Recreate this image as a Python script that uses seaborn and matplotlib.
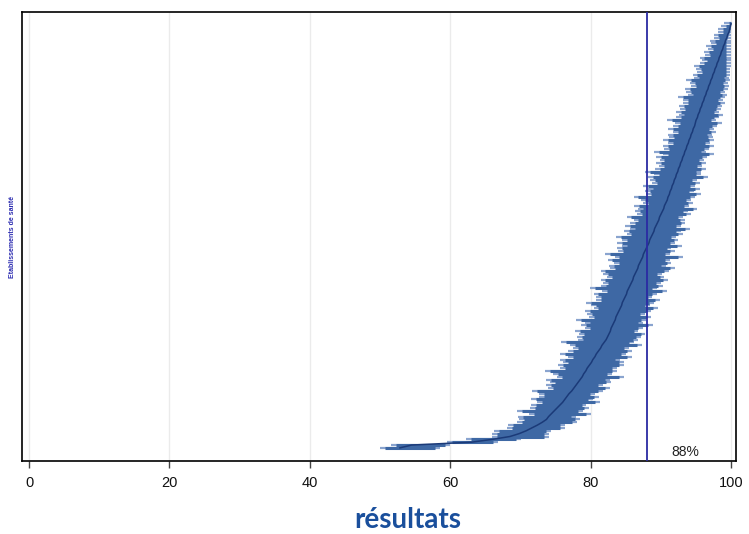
"""
Caterpillar plot : résultats par établissement de santé avec intervalles de confiance.
"""
import matplotlib
matplotlib.use("Agg")
import matplotlib.pyplot as plt
import numpy as np
import pandas as pd
import seaborn as sns

# résultats (valeur centrale) par établissement, triés du plus faible au plus élevé
centre = [
    52.8, 54.5, 63.0, 66.0, 68.5, 69.8, 70.8, 71.6, 72.4, 73.1,
    73.7, 74.0, 74.4, 74.8, 75.2, 75.6, 76.0, 76.3, 76.6, 76.9,
    77.3, 77.6, 77.9, 78.2, 78.5, 78.8, 79.0, 79.3, 79.5, 79.8,
    80.1, 80.3, 80.6, 80.8, 81.1, 81.4, 81.6, 81.9, 82.2, 82.4,
    82.6, 82.8, 82.9, 83.1, 83.3, 83.5, 83.6, 83.8, 84.0, 84.2,
    84.4, 84.5, 84.7, 84.9, 85.1, 85.2, 85.4, 85.6, 85.8, 86.0,
    86.1, 86.3, 86.5, 86.7, 86.8, 87.0, 87.2, 87.4, 87.5, 87.7,
    87.9, 88.1, 88.3, 88.4, 88.6, 88.8, 89.0, 89.1, 89.3, 89.5,
    89.7, 89.8, 90.0, 90.2, 90.4, 90.5, 90.7, 90.9, 91.0, 91.2,
    91.3, 91.5, 91.6, 91.8, 91.9, 92.1, 92.2, 92.4, 92.5, 92.7,
    92.8, 93.0, 93.1, 93.3, 93.4, 93.6, 93.7, 93.9, 94.0, 94.2,
    94.3, 94.5, 94.6, 94.8, 94.9, 95.0, 95.2, 95.3, 95.5, 95.6,
    95.8, 95.9, 96.1, 96.2, 96.4, 96.5, 96.7, 96.8, 97.0, 97.1,
    97.3, 97.4, 97.6, 97.7, 97.9, 98.0, 98.2, 98.3, 98.5, 98.6,
    98.8, 98.9, 99.1, 99.2, 99.4, 99.5, 99.7, 99.8, 99.9, 100.0,
]

# écart vers la borne inférieure de l'IC
err_bas = [
    2.8, 3.0, 3.5, 3.8, 2.6, 3.9, 4.6, 3.5, 4.2, 3.6,
    3.9, 4.4, 3.2, 5.3, 3.8, 4.1, 3.6, 4.8, 3.9, 4.3,
    5.6, 3.7, 4.2, 4.0, 4.9, 3.6, 4.4, 5.8, 3.9, 4.5,
    4.1, 4.7, 3.8, 5.2, 4.3, 3.9, 4.6, 6.1, 4.0, 4.4,
    4.2, 5.0, 3.7, 4.5, 4.1, 5.6, 3.9, 4.3, 4.8, 3.8,
    4.4, 5.2, 3.9, 4.2, 4.7, 3.6, 5.5, 4.1, 4.0, 4.6,
    3.8, 4.5, 5.1, 3.9, 4.2, 3.7, 4.8, 4.0, 5.4, 3.8,
    4.1, 3.6, 4.6, 3.9, 5.0, 3.7, 4.2, 3.5, 4.4, 3.9,
    3.6, 4.7, 3.4, 3.9, 3.7, 4.3, 3.2, 3.8, 4.9, 3.3,
    3.6, 3.3, 4.2, 3.1, 3.5, 3.9, 3.2, 4.6, 3.4, 3.0,
    3.5, 3.2, 3.8, 3.0, 4.4, 3.1, 3.4, 2.9, 3.7, 3.0,
    3.3, 2.8, 3.6, 3.1, 2.9, 4.1, 3.0, 2.7, 3.4, 2.9,
    3.2, 2.7, 3.0, 3.8, 2.6, 2.9, 3.3, 2.5, 2.8, 3.5,
    2.6, 2.9, 2.4, 2.7, 3.2, 2.5, 2.3, 2.8, 2.2, 2.4,
    2.1, 2.5, 1.9, 2.2, 1.8, 2.0, 1.6, 1.7, 1.3, 1.0,
]

# écart vers la borne supérieure de l'IC
err_haut = [
    5.7, 5.5, 3.8, 4.0, 5.5, 4.2, 3.6, 4.7, 3.9, 5.0,
    4.8, 3.9, 5.6, 4.1, 4.5, 3.8, 5.3, 4.0, 4.6, 3.7,
    4.4, 5.1, 3.9, 4.7, 4.2, 5.9, 4.0, 4.5, 4.3, 5.0,
    4.6, 3.9, 5.3, 4.2, 4.8, 4.1, 5.7, 4.3, 4.5, 4.7,
    5.2, 4.0, 4.6, 5.8, 4.1, 4.4, 5.0, 3.9, 4.6, 5.4,
    4.1, 4.5, 5.2, 3.9, 4.3, 5.6, 4.0, 4.7, 4.2, 5.0,
    4.4, 3.8, 4.6, 5.3, 3.9, 4.5, 4.1, 5.8, 3.8, 4.3,
    3.6, 4.9, 3.7, 4.1, 3.5, 4.4, 3.8, 5.0, 3.6, 4.0,
    3.7, 3.4, 4.3, 3.6, 4.8, 3.5, 3.9, 3.4, 3.8, 4.5,
    3.4, 4.1, 3.3, 3.7, 3.2, 4.6, 3.5, 3.3, 3.9, 3.2,
    3.6, 3.1, 3.4, 4.2, 3.0, 3.3, 3.8, 3.1, 3.5, 3.2,
    3.0, 3.4, 2.9, 3.2, 3.8, 2.9, 3.1, 3.5, 2.8, 3.0,
    2.9, 3.2, 2.7, 2.9, 3.0, 2.6, 2.8, 2.9, 2.5, 2.7,
    2.4, 2.5, 2.3, 2.2, 2.1, 2.0, 1.8, 1.7, 1.5, 1.4,
    1.2, 1.1, 0.9, 0.8, 0.6, 0.5, 0.3, 0.2, 0.1, 0.0,
]

seuil = 88
seuil_label = "88%"
x_ticks = [0, 20, 40, 60, 80, 100]

df = pd.DataFrame({"centre": centre, "bas": err_bas, "haut": err_haut})
df["rang"] = np.arange(len(df))
df["ic_bas"] = df["centre"] - df["bas"]
df["ic_haut"] = df["centre"] + df["haut"]

sns.set_style("whitegrid", {"grid.color": "#ebebeb", "axes.edgecolor": "black"})
plt.rcParams["font.family"] = ["Liberation Sans", "DejaVu Sans"]

fig, ax = plt.subplots(figsize=(7.49, 5.34), dpi=100)
fig.subplots_adjust(left=0.0294, right=0.9827, top=0.9775, bottom=0.1367)

# intervalles de confiance : bord clair puis coeur plus soutenu
ax.hlines(df["rang"], df["ic_bas"], df["ic_haut"], color="#8aa4cf", linewidth=1.6, zorder=2)
ax.hlines(df["rang"], df["ic_bas"] + 0.7, (df["ic_haut"] - 0.7).clip(lower=df["centre"]),
          color="#3e68a4", linewidth=2.2, zorder=2.5)
# valeurs centrales
sns.lineplot(data=df, x="centre", y="rang", orient="y", estimator=None,
             color="#1b3a78", linewidth=1.1, ax=ax, zorder=3)

ax.axvline(seuil, color="#2b2ba3", linewidth=1.3, zorder=4)
ax.text(0.9286, 0.02, seuil_label, transform=ax.transAxes, ha="center", va="center",
        fontsize=10, color="#222222")

ax.set_xlim(-1.0, 100.7)
ax.set_ylim(-4.6, 153.0)
ax.set_xticks(x_ticks)
ax.set_yticks([])
ax.yaxis.grid(False)
ax.xaxis.grid(True, linewidth=1)
ax.set_xlabel("")
ax.set_ylabel("")
for s in ax.spines.values():
    s.set_color("black")
    s.set_linewidth(1.2)
ax.tick_params(axis="x", bottom=True, length=5, width=1, color="#444444",
               labelsize=10.5, pad=6, labelcolor="#111111")

fig.text(13 / 749, 1 - 237 / 534, "Etablissements de santé", rotation=90,
         ha="center", va="center", fontsize=5.0, fontweight="bold", color="#2a2ab0")
fig.text(408 / 749, 1 - 520 / 534, "résultats", ha="center", va="center",
         fontsize=20, fontweight="bold", color="#1a4f9c", family="Lato")

fig.savefig("out.png", dpi=100)
plt.close(fig)
